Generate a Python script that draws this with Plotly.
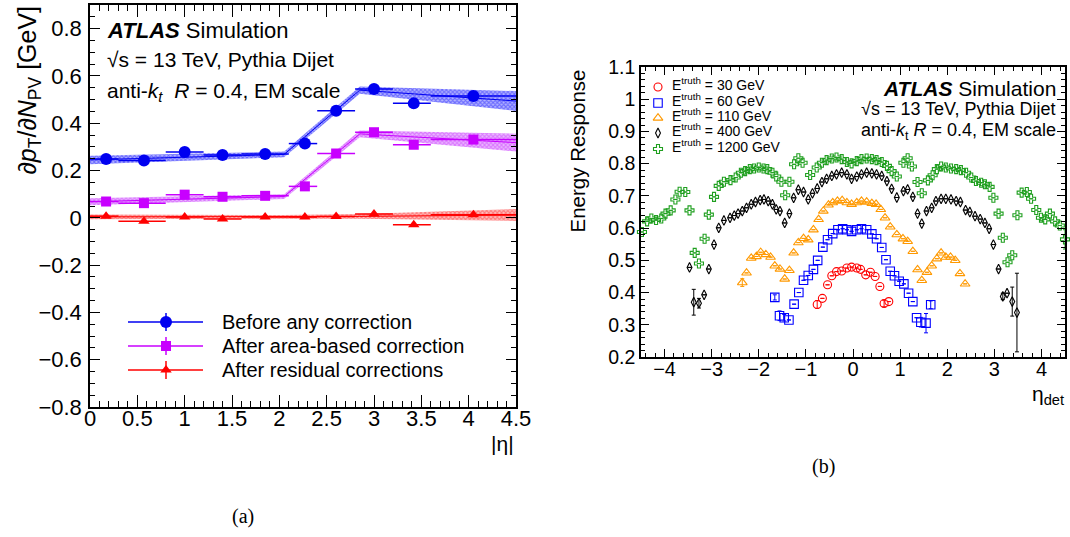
import plotly.graph_objects as go

W, H = 1070, 537
SANS = "Liberation Sans, Arial, Helvetica, sans-serif"
SERIF = "Liberation Serif, DejaVu Serif, serif"

# ---------------- (a) pile-up slope versus |eta| ----------------
abs_eta = [0.17, 0.57, 1.00, 1.40, 1.85, 2.27, 2.60, 3.00, 3.42, 4.05]
bin_lo = [0.0, 0.3, 0.8, 1.2, 1.6, 2.1, 2.4, 2.8, 3.2, 3.6]
bin_hi = [0.3, 0.8, 1.2, 1.6, 2.1, 2.4, 2.8, 3.2, 3.6, 4.5]
slope_before = [0.249, 0.242, 0.278, 0.266, 0.270, 0.314, 0.453, 0.545, 0.484, 0.515]
slope_area = [0.069, 0.062, 0.098, 0.089, 0.093, 0.133, 0.272, 0.362, 0.309, 0.331]
slope_resid = [0.007, -0.015, 0.004, -0.005, 0.003, 0.003, 0.006, 0.016, -0.029, 0.013]

# fitted parametrisation (knots of the piecewise-linear fit) and its uncertainty
fit_eta = [0.0, 2.05, 2.85, 4.5]
fit_before = [0.245, 0.268, 0.540, 0.494]
fit_before_unc = [0.018, 0.012, 0.015, 0.042]
fit_area = [0.068, 0.090, 0.355, 0.318]
fit_area_unc = [0.015, 0.010, 0.014, 0.038]
fit_resid = [0.004, 0.004, 0.006, 0.012]
fit_resid_unc = [0.010, 0.008, 0.010, 0.025]

legend_a = ["Before any correction", "After area-based correction", "After residual corrections"]

# ---------------- (b) energy response versus eta_det ----------------
eta_30 = [-0.76, -0.65, -0.54, -0.45, -0.35, -0.24, -0.13, -0.03, 0.08, 0.16, 0.27, 0.37, 0.47, 0.57, 0.66, 0.76]
resp_30 = [0.363, 0.382, 0.424, 0.452, 0.465, 0.467, 0.476, 0.479, 0.476, 0.472, 0.455, 0.463, 0.450, 0.419, 0.366, 0.372]
err_30 = {-0.76: 0.012, 0.66: 0.010}

eta_60 = [-1.66, -1.56, -1.46, -1.36, -1.25, -1.15, -1.05, -0.95, -0.84, -0.75, -0.64, -0.54, -0.43, -0.32,
          -0.22, -0.13, -0.03, 0.08, 0.18, 0.29, 0.40, 0.50, 0.61, 0.70, 0.79, 0.88, 0.98, 1.08, 1.18, 1.27,
          1.35, 1.44, 1.55, 1.65]
resp_60 = [0.385, 0.328, 0.322, 0.315, 0.364, 0.400, 0.438, 0.453, 0.472, 0.500, 0.541, 0.564, 0.583, 0.595,
           0.598, 0.595, 0.590, 0.595, 0.598, 0.595, 0.582, 0.567, 0.540, 0.502, 0.466, 0.452, 0.435, 0.427,
           0.398, 0.372, 0.322, 0.308, 0.305, 0.362]
err_60 = {-1.66: 0.008, -1.56: 0.015, -1.46: 0.010, 1.44: 0.015, 1.55: 0.030, 1.65: 0.012}

eta_110 = [-2.35, -2.26, -2.16, -2.05, -1.96, -1.85, -1.75, -1.66, -1.55, -1.45, -1.35, -1.26, -1.16, -1.05,
           -0.95, -0.84, -0.73, -0.63, -0.52, -0.43, -0.33, -0.23, -0.13, -0.03, 0.08, 0.18, 0.29, 0.40, 0.49,
           0.59, 0.68, 0.79, 0.93, 1.06, 1.16, 1.27, 1.37, 1.46, 1.57, 1.67, 1.78, 1.87, 1.97, 2.07, 2.17,
           2.27, 2.38]
resp_110 = [0.431, 0.461, 0.507, 0.512, 0.525, 0.518, 0.510, 0.483, 0.473, 0.442, 0.469, 0.523, 0.555, 0.568,
            0.564, 0.595, 0.627, 0.653, 0.672, 0.679, 0.684, 0.686, 0.679, 0.674, 0.679, 0.684, 0.681, 0.677,
            0.674, 0.658, 0.632, 0.604, 0.580, 0.567, 0.559, 0.528, 0.471, 0.438, 0.463, 0.483, 0.505, 0.523,
            0.510, 0.510, 0.500, 0.459, 0.427]
err_110 = {-2.35: 0.012}

eta_400 = [-3.47, -3.38, -3.27, -3.16, -3.06, -2.95, -2.85, -2.74, -2.61, -2.52, -2.44, -2.35, -2.26, -2.16,
           -2.07, -1.97, -1.89, -1.80, -1.71, -1.63, -1.55, -1.45, -1.35, -1.26, -1.16, -1.05, -0.95, -0.86,
           -0.76, -0.66, -0.56, -0.45, -0.35, -0.24, -0.13, -0.03, 0.08, 0.18, 0.29, 0.40, 0.50, 0.61, 0.72,
           0.82, 0.93, 1.07, 1.16, 1.27, 1.37, 1.46, 1.56, 1.67, 1.76, 1.87, 1.97, 2.08, 2.19, 2.28, 2.39,
           2.48, 2.59, 2.70, 2.80, 2.89, 2.98, 3.09, 3.18, 3.27, 3.38, 3.48]
resp_400 = [0.478, 0.370, 0.367, 0.393, 0.473, 0.549, 0.601, 0.624, 0.632, 0.639, 0.645, 0.653, 0.663, 0.674,
            0.681, 0.687, 0.689, 0.684, 0.674, 0.658, 0.653, 0.616, 0.645, 0.694, 0.719, 0.712, 0.689, 0.708,
            0.723, 0.743, 0.753, 0.762, 0.767, 0.772, 0.767, 0.753, 0.760, 0.767, 0.772, 0.770, 0.767, 0.762,
            0.746, 0.722, 0.695, 0.715, 0.720, 0.697, 0.645, 0.614, 0.653, 0.663, 0.684, 0.691, 0.691, 0.689,
            0.684, 0.681, 0.656, 0.650, 0.637, 0.628, 0.616, 0.598, 0.549, 0.473, 0.388, 0.398, 0.372, 0.338]
err_400 = {-3.38: 0.040, -3.27: 0.015, 3.18: 0.010, 3.38: 0.045, 3.48: 0.122}

eta_1200 = [-4.48, -4.37, -4.28, -4.18, -4.07, -3.98, -3.87, -3.77, -3.68, -3.56, -3.47, -3.36, -3.27, -3.15,
            -3.06, -2.95, -2.85, -2.74, -2.60, -2.49, -2.38, -2.29, -2.19, -2.10, -2.00, -1.90, -1.82, -1.71,
            -1.63, -1.52, -1.44, -1.35, -1.25, -1.16, -1.07, -0.91, -0.77, -0.66, -0.56, -0.45, -0.35, -0.24,
            -0.13, -0.03, 0.08, 0.18, 0.29, 0.40, 0.50, 0.61, 0.72, 0.82, 0.93, 1.07, 1.16, 1.25, 1.37, 1.46,
            1.59, 1.69, 1.78, 1.87, 1.97, 2.08, 2.19, 2.29, 2.40, 2.51, 2.61, 2.72, 2.80, 2.90, 2.98, 3.09,
            3.18, 3.28, 3.38, 3.49, 3.58, 3.69, 3.78, 3.89, 3.99, 4.08, 4.18, 4.29, 4.39, 4.50]
resp_1200 = [0.588, 0.621, 0.630, 0.625, 0.630, 0.645, 0.655, 0.689, 0.713, 0.712, 0.655, 0.523, 0.490, 0.567,
             0.642, 0.697, 0.731, 0.744, 0.749, 0.757, 0.772, 0.777, 0.783, 0.785, 0.788, 0.785, 0.783, 0.772,
             0.760, 0.744, 0.702, 0.744, 0.798, 0.817, 0.803, 0.765, 0.788, 0.803, 0.811, 0.816, 0.819, 0.814,
             0.805, 0.801, 0.808, 0.814, 0.816, 0.814, 0.811, 0.805, 0.793, 0.777, 0.760, 0.803, 0.817, 0.791,
             0.743, 0.708, 0.748, 0.764, 0.783, 0.791, 0.788, 0.785, 0.783, 0.780, 0.772, 0.757, 0.746, 0.741,
             0.736, 0.728, 0.694, 0.645, 0.570, 0.494, 0.516, 0.640, 0.710, 0.712, 0.691, 0.656, 0.632, 0.627,
             0.645, 0.621, 0.608, 0.565]
err_1200 = {4.50: 0.030}

legend_b = ["E<sup>truth</sup> = 30 GeV", "E<sup>truth</sup> = 60 GeV", "E<sup>truth</sup> = 110 GeV",
            "E<sup>truth</sup> = 400 GeV", "E<sup>truth</sup> = 1200 GeV"]

# ---------------- styling ----------------
BLUE, MAGENTA, RED = "#0000f0", "#c800ff", "#ff0000"
BAND_A = [("rgba(20,20,255,0.9)", "rgba(130,130,255,0.6)"),
          ("rgba(200,40,255,0.9)", "rgba(222,140,255,0.6)"),
          ("rgba(255,40,40,0.9)", "rgba(255,150,150,0.6)")]
ORANGE, GREEN = "#ff9900", "#1f9f1f"

fig = go.Figure()

# hatched fit bands with their central line
for mid, unc, (fg, bg), col in [(fit_before, fit_before_unc, BAND_A[0], BLUE),
                                 (fit_area, fit_area_unc, BAND_A[1], MAGENTA),
                                 (fit_resid, fit_resid_unc, BAND_A[2], RED)]:
    up = [m + u for m, u in zip(mid, unc)]
    dn = [m - u for m, u in zip(mid, unc)]
    fig.add_trace(go.Scatter(
        x=fit_eta + fit_eta[::-1], y=up + dn[::-1], fill="toself", mode="lines",
        line=dict(width=0), fillcolor=bg,
        fillpattern=dict(shape="x", fgcolor=fg, bgcolor=bg, size=3, solidity=0.6),
        xaxis="x", yaxis="y", showlegend=False, hoverinfo="skip"))
    fig.add_trace(go.Scatter(x=fit_eta, y=mid, mode="lines", line=dict(color=col, width=1),
                             xaxis="x", yaxis="y", showlegend=False, hoverinfo="skip"))

err_plus = [h - e for h, e in zip(bin_hi, abs_eta)]
err_minus = [e - l for e, l in zip(abs_eta, bin_lo)]
markers_a = [("circle", 12), ("square", 10), ("triangle-up", 10)]
for vals, col, (sym, size) in zip([slope_before, slope_area, slope_resid], [BLUE, MAGENTA, RED], markers_a):
    fig.add_trace(go.Scatter(
        x=abs_eta, y=vals, mode="markers",
        marker=dict(symbol=sym, size=size, color=col, line=dict(width=0)),
        error_x=dict(type="data", symmetric=False, array=err_plus, arrayminus=err_minus,
                     color=col, thickness=1.5, width=0),
        xaxis="x", yaxis="y", showlegend=False, cliponaxis=False))

# (b) response curves
series_b = [
    (eta_30, resp_30, err_30, "circle-open", 8, RED),
    (eta_60, resp_60, err_60, "square-open", 8.5, "#0000ff"),
    (eta_110, resp_110, err_110, "triangle-up-open", 8.5, ORANGE),
    (eta_400, resp_400, err_400, "diamond-tall-open", 7, "black"),
    (eta_1200, resp_1200, err_1200, "cross-open", 7.5, GREEN),
]
for etas, resp, errs, sym, size, col in series_b:
    fig.add_trace(go.Scatter(
        x=etas, y=resp, mode="markers",
        marker=dict(symbol=sym, size=size, color=col, line=dict(width=1.1, color=col)),
        error_y=dict(type="data", array=[errs.get(e) for e in etas], color=col, thickness=1, width=2),
        xaxis="x2", yaxis="y2", showlegend=False, cliponaxis=False))

# ---------------- legend keys on a pixel-space overlay ----------------
LEG_A_ROWS = [322, 346, 370]
LEG_A_LINE = (128, 203)
LEG_A_MARK = 166
LEG_A_TEXT = 220
for row, col, (sym, size) in zip(LEG_A_ROWS, [BLUE, MAGENTA, RED], markers_a):
    fig.add_trace(go.Scatter(x=list(LEG_A_LINE), y=[row, row], mode="lines",
                             line=dict(color=col, width=1.5), xaxis="x3", yaxis="y3",
                             showlegend=False, hoverinfo="skip"))
    fig.add_trace(go.Scatter(x=[LEG_A_MARK], y=[row], mode="markers",
                             marker=dict(symbol=sym, size=size, color=col, line=dict(width=0)),
                             error_y=dict(type="constant", value=9, color=col, thickness=1.5, width=0),
                             xaxis="x3", yaxis="y3", showlegend=False, hoverinfo="skip"))

LEG_B_ROWS = [87, 103, 118, 133, 149]
LEG_B_MARK = 658
LEG_B_TEXT = 670
for row, (_, _, _, sym, size, col) in zip(LEG_B_ROWS, series_b):
    fig.add_trace(go.Scatter(x=[LEG_B_MARK], y=[row], mode="markers",
                             marker=dict(symbol=sym, size=size, color=col, line=dict(width=1.1, color=col)),
                             xaxis="x3", yaxis="y3", showlegend=False, hoverinfo="skip"))

# ---------------- annotations ----------------
def ann(text, x, y, size, xanchor="left", yanchor="middle", family=SANS, angle=0):
    return dict(text=text, x=x / W, y=1 - y / H, xref="paper", yref="paper", showarrow=False,
                xanchor=xanchor, yanchor=yanchor, textangle=angle,
                font=dict(family=family, size=size, color="black"))

annotations = [
    ann("<b><i>ATLAS</i></b> Simulation", 105, 30, 22),
    ann("\u221as = 13 TeV, Pythia Dijet", 105, 60, 21),
    ann("anti-<i>k</i><sub><i>t</i></sub>  <i>R</i> = 0.4, EM scale", 105, 92, 21),
    ann("<b><i>ATLAS</i></b> Simulation", 1058, 88, 21, xanchor="right"),
    ann("\u221as = 13 TeV, Pythia Dijet", 1058, 109, 18, xanchor="right"),
    ann("anti-<i>k</i><sub>t</sub> <i>R</i> = 0.4, EM scale", 1058, 132, 18, xanchor="right"),
    ann("\u2202<i>p</i><sub>T</sub>/\u2202<i>N</i><sub>PV</sub> [GeV]", 28, 4, 25,
        xanchor="center", yanchor="top", angle=-90),
    ann("|\u03b7|", 516, 443, 21, xanchor="right"),
    ann("Energy Response", 577, 68, 20.5, xanchor="center", yanchor="top", angle=-90),
    ann("\u03b7<sub>det</sub>", 1066, 395, 21, xanchor="right"),
    ann("(a)", 243, 516, 20, xanchor="center", family=SERIF),
    ann("(b)", 823, 466, 20, xanchor="center", family=SERIF),
]
for row, txt in zip(LEG_A_ROWS, legend_a):
    annotations.append(ann(txt, LEG_A_TEXT, row, 20))
for row, txt in zip(LEG_B_ROWS, legend_b):
    annotations.append(ann(txt, LEG_B_TEXT, row - 3, 14))

# ---------------- axes ----------------
def frame(tickfont, major, minor, dtick, mdtick, **kw):
    d = dict(showline=True, linecolor="black", linewidth=1.5, mirror="allticks",
             ticks="inside", ticklen=major, tickwidth=1.2, tickcolor="black", dtick=dtick,
             showgrid=False, zeroline=False, automargin=False,
             tickfont=dict(family=SANS, size=tickfont, color="black"),
             minor=dict(ticks="inside", ticklen=minor, tickwidth=1, tickcolor="black",
                        dtick=mdtick, showgrid=False))
    d.update(kw)
    return d

fig.update_layout(
    width=W, height=H, margin=dict(l=0, r=0, t=0, b=0, pad=0), autosize=False,
    paper_bgcolor="white", plot_bgcolor="rgba(0,0,0,0)", showlegend=False,
    xaxis=frame(22, 12, 6, 0.5, 0.1, domain=[90 / W, 516 / W], range=[0, 4.5], anchor="y",
                tick0=0, ticklabelstandoff=-9),
    yaxis=frame(22, 10, 5, 0.2, 0.05, domain=[1 - 407 / H, 1 - 5 / H], range=[-0.8, 0.9], anchor="x",
                tick0=0, ticklabelstandoff=2),
    xaxis2=frame(20, 8, 4, 1, 0.2, domain=[641 / W, 1065 / W], range=[-4.5, 4.5], anchor="y2",
                 tick0=0, ticklabelstandoff=-7),
    yaxis2=frame(19.5, 8, 4, 0.1, 0.02, domain=[1 - 357 / H, 1 - 67 / H], range=[0.2, 1.1], anchor="x2",
                 tick0=0),
    xaxis3=dict(domain=[0, 1], range=[0, W], visible=False, anchor="y3", fixedrange=True),
    yaxis3=dict(domain=[0, 1], range=[H, 0], visible=False, anchor="x3", fixedrange=True),
    annotations=annotations,
)

# keep the page exactly the size of the figure
page_css = ("document.body.style.margin='0';document.body.style.padding='0';"
            "document.body.style.overflow='hidden';document.documentElement.style.overflow='hidden';")
fig.write_html("out.html", post_script=page_css)
